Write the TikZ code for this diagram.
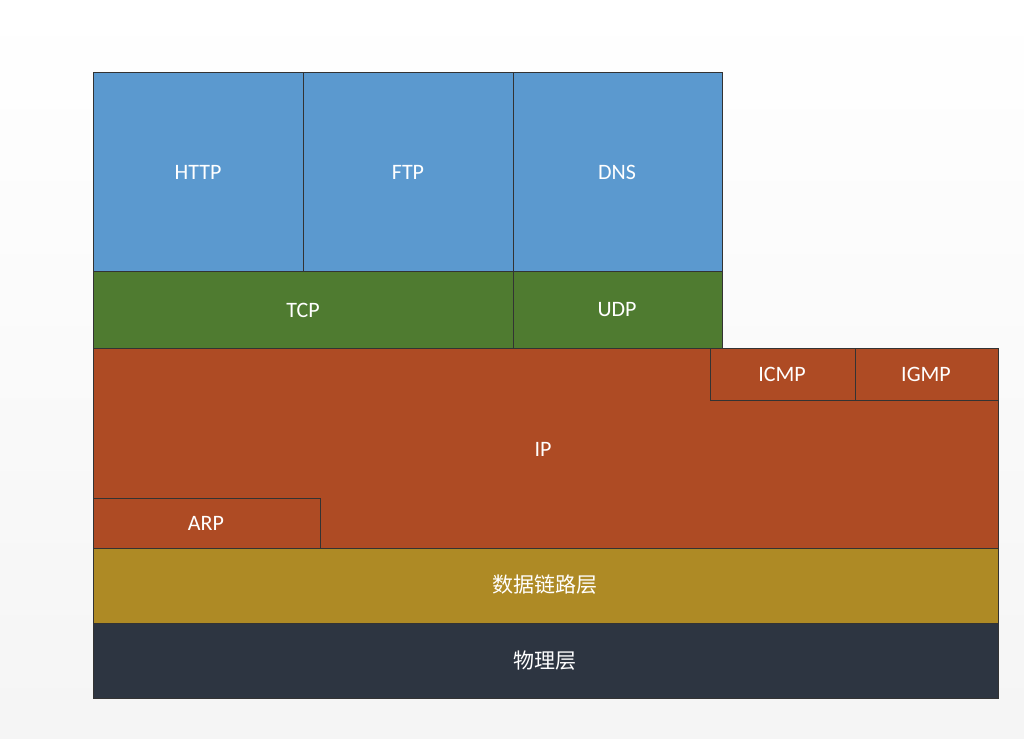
\documentclass[tikz,border=0pt]{standalone}
\usepackage{fontspec}
\setmainfont{Carlito}
\newfontfamily\cjk{Noto Sans CJK SC}
\definecolor{cblue}{HTML}{5B99CF}
\definecolor{cgreen}{HTML}{4F7B30}
\definecolor{cred}{HTML}{AE4B24}
\definecolor{cgold}{HTML}{AE8A25}
\definecolor{cdark}{HTML}{2D3541}
\definecolor{cline}{HTML}{333333}
\begin{document}
\begin{tikzpicture}[x=1pt,y=-1pt,
  blk/.style={draw=cline,line width=0.8pt},
  lbl/.style={text=white,font=\fontsize{22}{24}\selectfont}]
\shade[top color=white,bottom color=white!92!gray] (0,0) rectangle (1024,738);
\useasboundingbox (0,0) rectangle (1024,738);
\filldraw[blk,fill=cblue] (93,72) rectangle (303,271);
\filldraw[blk,fill=cblue] (303,72) rectangle (513,271);
\filldraw[blk,fill=cblue] (513,72) rectangle (722,271);
\filldraw[blk,fill=cgreen] (93,271) rectangle (513,348);
\filldraw[blk,fill=cgreen] (513,271) rectangle (722,348);
\filldraw[blk,fill=cred] (93,348) rectangle (998,548);
\filldraw[blk,fill=cred] (710,348) rectangle (855,400);
\filldraw[blk,fill=cred] (855,348) rectangle (998,400);
\filldraw[blk,fill=cred] (93,498) rectangle (320,548);
\filldraw[blk,fill=cgold] (93,548) rectangle (998,623);
\filldraw[blk,fill=cdark] (93,623) rectangle (998,698);
\node[lbl] (http) at (198,172) {HTTP};
\node[lbl] (ftp) at (408,172) {FTP};
\node[lbl] (dns) at (617,172) {DNS};
\node[lbl] (tcp) at (303,310) {TCP};
\node[lbl] (udp) at (617,310) {UDP};
\node[lbl] (icmp) at (782,374) {ICMP};
\node[lbl] (igmp) at (926,374) {IGMP};
\node[lbl] (ip) at (543,449) {IP};
\node[lbl] (arp) at (206,523) {ARP};
\node[lbl,font=\cjk\fontsize{21}{24}\selectfont] (dl) at (545,585) {数据链路层};
\node[lbl,font=\cjk\fontsize{21}{24}\selectfont] (ph) at (545,661) {物理层};
\end{tikzpicture}
\end{document}
